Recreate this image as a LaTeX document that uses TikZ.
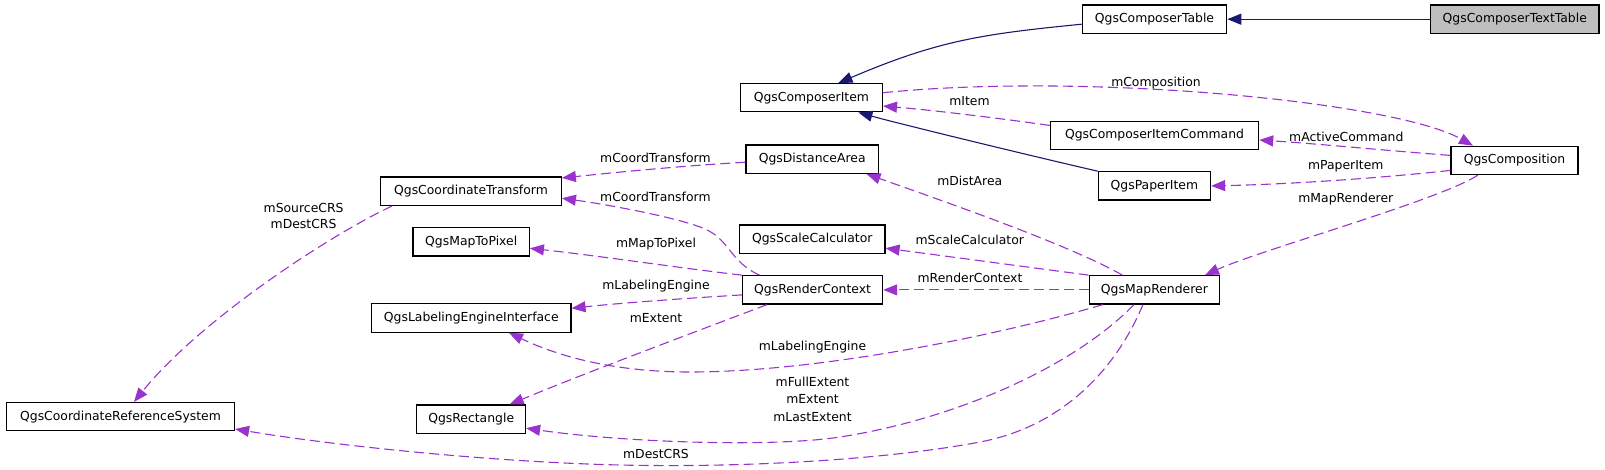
\documentclass[tikz,border=0pt]{standalone}
\usepackage{fontspec}
\setmainfont{DejaVu Sans}
\usetikzlibrary{arrows.meta,calc}
\definecolor{edgepurple}{RGB}{154,50,205}
\definecolor{inhblue}{RGB}{25,25,112}
\definecolor{boxgray}{RGB}{191,191,191}
\begin{document}
\begin{tikzpicture}[x=1pt,y=-1pt,
  every node/.style={font=\fontsize{12.4}{14}\selectfont},
  cls/.style={draw=black, line width=1.2pt, fill=white, minimum height=28.3pt, inner sep=0pt, anchor=center},
  rel/.style={draw=edgepurple, line width=1.1pt, dash pattern=on 10pt off 5pt, -{Triangle[length=14pt,width=11pt]}},
  inh/.style={draw=inhblue, line width=1.1pt, -{Triangle[length=14pt,width=11pt]}},
  lbl/.style={inner sep=0pt, anchor=center}]
\useasboundingbox (0,0) rectangle (1605,469);
% classes
\node[cls, minimum width=168.4pt, fill=boxgray] (tt) at (1514.8,19.2) {QgsComposerTextTable};
\node[cls, minimum width=144.4pt] (ctab) at (1154.5,19.2) {QgsComposerTable};
\node[cls, minimum width=142pt] (ci) at (811.4,97.7) {QgsComposerItem};
\node[cls, minimum width=208.3pt] (cic) at (1154.5,135.4) {QgsComposerItemCommand};
\node[cls, minimum width=127pt] (comp) at (1514.5,160.4) {QgsComposition};
\node[cls, minimum width=132.4pt] (da) at (812.2,159.2) {QgsDistanceArea};
\node[cls, minimum width=112.3pt] (pi) at (1154.4,185.9) {QgsPaperItem};
\node[cls, minimum width=180.6pt] (ct) at (471,191.2) {QgsCoordinateTransform};
\node[cls, minimum width=116.3pt] (mtp) at (471.2,241.9) {QgsMapToPixel};
\node[cls, minimum width=145.4pt] (sc) at (812.3,239.2) {QgsScaleCalculator};
\node[cls, minimum width=140pt] (rc) at (812.6,289.9) {QgsRenderContext};
\node[cls, minimum width=130.3pt] (mr) at (1154.4,289.9) {QgsMapRenderer};
\node[cls, minimum width=199.3pt] (lei) at (471.3,318) {QgsLabelingEngineInterface};
\node[cls, minimum width=108.7pt] (rect) at (471.2,419.2) {QgsRectangle};
\node[cls, minimum width=228pt] (crs) at (120.5,416.7) {QgsCoordinateReferenceSystem};
% inheritance
\draw[inh] (tt.west) -- (ctab.east);
\draw[inh] ($(ctab.west)+(0,5)$) .. controls (982.6,34) and (938.5,40.3) .. ($(ci.north)+(27,0)$);
\draw[inh] (pi.north west) .. controls (1040,158) and (900,124) .. ($(ci.south)+(47,0)$);
% usage
\draw[rel] ($(ci.east)+(0,-5)$) .. controls (1090,72) and (1395,102) .. ($(comp.north)+(-41.5,0)$);
\draw[rel] ($(cic.west)+(0,-10)$) .. controls (990,117) and (930,110) .. ($(ci.east)+(0,8.3)$);
\draw[rel] ($(comp.west)+(0,-5)$) .. controls (1380,150) and (1320,144) .. ($(cic.east)+(0,4.6)$);
\draw[rel] ($(comp.west)+(0,10)$) .. controls (1390,177) and (1300,184) .. (pi.east);
\draw[rel] ($(comp.south)+(-36.7,0)$) .. controls (1440,200) and (1260,250) .. ($(mr.north)+(50.6,0)$);
\draw[rel] ($(mr.north)+(-32,0)$) .. controls (1070,245) and (940,200) .. ($(da.south)+(54.3,0)$);
\draw[rel] (mr.north west) -- ($(sc.east)+(0,9)$);
\draw[rel] (mr.west) -- (rc.east);
\draw[rel] ($(mr.south)+(-51.7,0)$) .. controls (1000,335) and (820,372) .. (690,372) .. controls (600,372) and (545,350) .. ($(lei.south)+(37.7,0)$);
\draw[rel] ($(mr.south)+(-20.4,0)$) .. controls (1070,370) and (950,420) .. (840,437) .. controls (770,447.8) and (620,442) .. ($(rect.east)+(0,9)$);
\draw[rel] ($(mr.south)+(-11.5,0)$) .. controls (1120,360) and (1070,425) .. (980,442) .. controls (890,459) and (750,468) .. (620,465) .. controls (490,462) and (330,445) .. ($(crs.east)+(0,12.3)$);
\draw[rel] ($(rc.north)+(-53,0)$) .. controls (730,262) and (730,240) .. (705,229) .. controls (680,218) and (610,205) .. ($(ct.east)+(0,7)$);
\draw[rel] ($(da.west)+(0,3)$) .. controls (680,166) and (620,172) .. ($(ct.north east)+(0,1.5)$);
\draw[rel] (rc.north west) .. controls (680,268) and (600,256) .. ($(mtp.east)+(0,6.4)$);
\draw[rel] ($(rc.west)+(0,5)$) .. controls (690,298) and (620,303) .. ($(lei.east)+(0,-9.7)$);
\draw[rel] ($(rc.south)+(-45.6,0)$) .. controls (700,330) and (580,375) .. ($(rect.north)+(38.5,0)$);
\draw[rel] ($(ct.south west)+(12,0)$) .. controls (330,235) and (200,320) .. ($(crs.north)+(13.5,0)$);
% labels
\node[lbl] (lcomp) at (1156,82.7) {mComposition};
\node[lbl] (litem) at (969.5,100.7) {mItem};
\node[lbl] (lac) at (1346.3,136.7) {mActiveCommand};
\node[lbl] (lpi) at (1345.8,166.7) {mPaperItem};
\node[lbl] (lmr) at (1345.8,198.7) {mMapRenderer};
\node[lbl] (lda) at (969.8,180.7) {mDistArea};
\node[lbl] (lsc) at (969.8,240.3) {mScaleCalculator};
\node[lbl] (lrc) at (970,278.3) {mRenderContext};
\node[lbl] (lct1) at (655.4,157.7) {mCoordTransform};
\node[lbl] (lct2) at (655.4,196.7) {mCoordTransform};
\node[lbl] (lmtp) at (656,244.3) {mMapToPixel};
\node[lbl] (lle1) at (656,285.7) {mLabelingEngine};
\node[lbl] (lext) at (656,317.7) {mExtent};
\node[lbl] (lle2) at (812.5,346.7) {mLabelingEngine};
\node[lbl, align=center, font=\fontsize{12.4}{17.5}\selectfont] (lfull) at (812.5,399.2) {mFullExtent\\mExtent\\mLastExtent};
\node[lbl, align=center, font=\fontsize{12.4}{16.6}\selectfont] (lcrs) at (303.6,216) {mSourceCRS\\mDestCRS};
\node[lbl] (ldest) at (656,454) {mDestCRS};
\end{tikzpicture}
\end{document}
